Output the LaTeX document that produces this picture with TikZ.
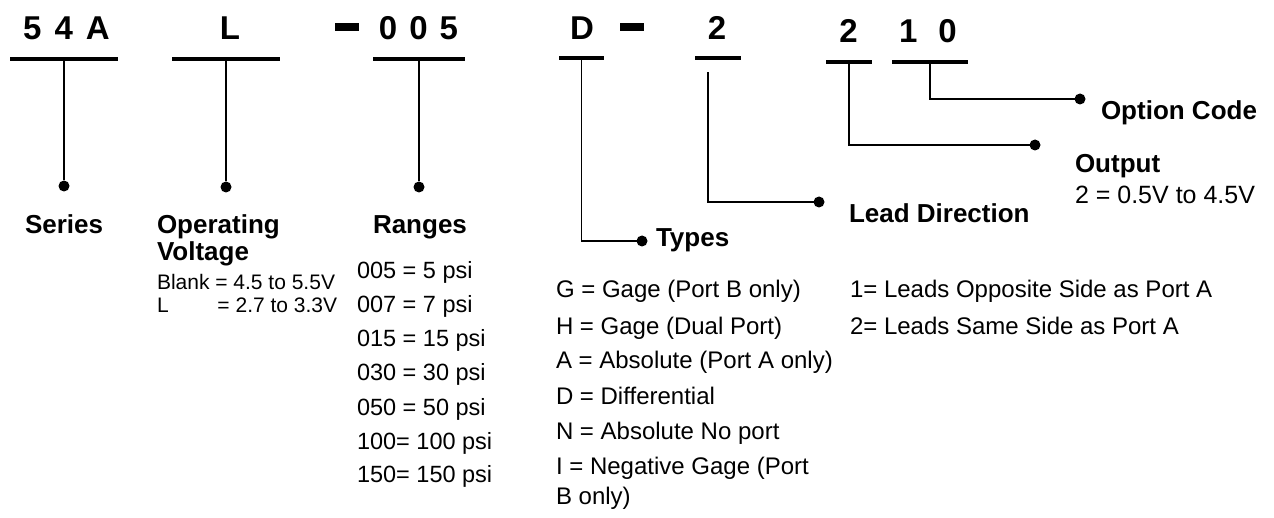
\documentclass[tikz,border=0pt]{standalone}
\usepackage{fontspec}
\setmainfont{Liberation Sans}
\begin{document}
\begin{tikzpicture}[x=1pt,y=-1pt]
	\tikzstyle{every node}=[inner sep=0pt,outer sep=0pt]
	\tikzstyle{code}=[font=\fontsize{33}{36}\selectfont\bfseries,anchor=base]
	\tikzstyle{bar}=[fill=black,rectangle,minimum height=4pt]
	\tikzstyle{hyph}=[fill=black,rectangle,minimum width=24pt,minimum height=7.5pt]
	\tikzstyle{dot}=[fill=black,circle,minimum size=11pt]
	\tikzstyle{head}=[font=\fontsize{26}{28}\selectfont\bfseries,anchor=base west]
	\tikzstyle{item}=[font=\fontsize{24}{26}\selectfont,anchor=base west]
	\tikzstyle{small}=[font=\fontsize{21}{23}\selectfont,anchor=base west]
	\tikzstyle{lead}=[line width=1.6pt]
	\useasboundingbox (0,0) rectangle (1274,518);
	% part number
	\node[code] (c1) at (66.5,40) {5\hspace{13pt}4\hspace{13pt}A};
	\node[code] (c2) at (230,40) {L};
	\node[hyph] (h1) at (347,27) {};
	\node[code] (c3) at (418.5,40) {0\hspace{12pt}0\hspace{12pt}5};
	\node[code] (c4) at (582,40) {D};
	\node[hyph] (h2) at (631.5,27) {};
	\node[code] (c5) at (717,40) {2};
	\node[code] (c6) at (848.5,43) {2};
	\node[code] (c7) at (928,43) {1\hspace{21pt}0};
	% bars
	\node[bar,minimum width=108pt] (b1) at (64,59) {};
	\node[bar,minimum width=108pt] (b2) at (226,59) {};
	\node[bar,minimum width=92pt] (b3) at (419,59) {};
	\node[bar,minimum width=45pt] (b4) at (581.5,58.5) {};
	\node[bar,minimum width=46pt] (b5) at (718,58.5) {};
	\node[bar,minimum width=46pt] (b6) at (849,62) {};
	\node[bar,minimum width=76pt] (b7) at (930,62) {};
	% dots
	\node[dot] (d1) at (64,186) {};
	\node[dot] (d2) at (226,187) {};
	\node[dot] (d3) at (419,187) {};
	\node[dot] (d4) at (642,241) {};
	\node[dot] (d5) at (819,202) {};
	\node[dot] (d6) at (1035,145) {};
	\node[dot] (d7) at (1080,99) {};
	\draw[lead] (b1.south) -- (d1);
	\draw[lead] (b2.south) -- (d2);
	\draw[lead] (b3.south) -- (d3);
	\draw[lead] (b4.south) |- (d4);
	\draw[lead] ([xshift=-10pt,yshift=-12pt]b5.south) |- (d5);
	\draw[lead] (b6.south) |- (d6);
	\draw[lead] (b7.south) |- (d7);
	% series
	\node[head] (series) at (25,234) {Series};
	% voltage
	\node[head] (oper) at (157,234) {Operating};
	\node[head] (volt) at (157,261) {Voltage};
	\node[small] (vb) at (157,290) {Blank = 4.5 to 5.5V};
	\node[small] (vl) at (157,313) {\makebox[60.5pt][l]{L}= 2.7 to 3.3V};
	% ranges
	\node[head] (rang) at (373,234) {Ranges};
	\node[item,font=\fontsize{23.5}{26}\selectfont] (r1) at (357,279) {005 = 5 psi};
	\node[item,font=\fontsize{23.5}{26}\selectfont] (r2) at (357,313) {007 = 7 psi};
	\node[item,font=\fontsize{23.5}{26}\selectfont] (r3) at (357,347) {015 = 15 psi};
	\node[item,font=\fontsize{23.5}{26}\selectfont] (r4) at (357,381) {030 = 30 psi};
	\node[item,font=\fontsize{23.5}{26}\selectfont] (r5) at (357,415) {050 = 50 psi};
	\node[item,font=\fontsize{23.5}{26}\selectfont] (r6) at (357,449) {100= 100 psi};
	\node[item,font=\fontsize{23.5}{26}\selectfont] (r7) at (357,482) {150= 150 psi};
	% types
	\node[head] (types) at (656,247) {Types};
	\node[item] (t1) at (556,298) {G = Gage (Port B only)};
	\node[item] (t2) at (556,335) {H = Gage (Dual Port)};
	\node[item] (t3) at (556,369) {A = Absolute (Port A only)};
	\node[item] (t4) at (556,404) {D = Differential};
	\node[item] (t5) at (556,439) {N = Absolute No port};
	\node[item] (t6) at (556,474) {I = Negative Gage (Port};
	\node[item] (t7) at (556,504) {B only)};
	% lead direction
	\node[head] (leaddir) at (849,223) {Lead Direction};
	\node[item] (l1) at (850,298) {1= Leads Opposite Side as Port A};
	\node[item] (l2) at (850,335) {2= Leads Same Side as Port A};
	% output
	\node[head] (output) at (1075,173) {Output};
	\node[item,font=\fontsize{25}{26}\selectfont] (o1) at (1075,204) {2 = 0.5V to 4.5V};
	% option code
	\node[head] (option) at (1101,120) {Option Code};
\end{tikzpicture}
\end{document}
